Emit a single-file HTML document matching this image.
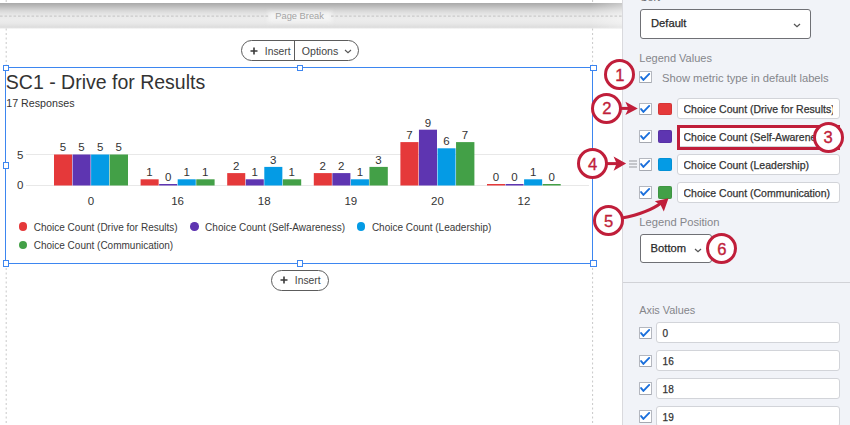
<!DOCTYPE html>
<html><head><meta charset="utf-8">
<style>
*{margin:0;padding:0;box-sizing:border-box}
html,body{width:850px;height:425px;overflow:hidden;background:#fff;font-family:"Liberation Sans",sans-serif;color:#333}
.abs{position:absolute}
.t{white-space:nowrap}
#pb{left:0;top:3px;width:622px;height:26px;background:linear-gradient(#a9a9a9 0px,#b1b1b1 1.5px,#bdbdbd 3.5px,#cacaca 5.5px,#d6d6d6 7.5px,#dfdfdf 9.5px,#e6e6e6 11.5px,#eaeaea 13.5px,#ececec 17px,#e9e9e9 20px,#e1e1e1 23px,#dcdcdc 24.3px,#eeeeee 25.3px,#ffffff 26px)}
#pbr{left:590px;top:3px;width:32px;height:25px;background:linear-gradient(to right,rgba(255,255,255,0),rgba(255,255,255,0.35))}
#panel{left:622px;top:0;width:228px;height:425px;background:#f1f3f8;border-left:1px solid #d9d9dd}
.sel{border:1px solid #3d86f0}
.h{width:6.4px;height:6.4px;border:1.4px solid #3d86f0;background:#fff}
.pill{border:1px solid #5c5c5c;border-radius:11px;background:#fff}
svg text{font-family:"Liberation Sans",sans-serif;fill:#333}
.vl text{font-size:11.5px;text-anchor:middle}
.xl{font-size:11.5px;text-anchor:middle}
.yl{font-size:11.5px;text-anchor:end}
.dot{width:8.5px;height:8.5px;border-radius:50%}
.cb{width:12.6px;height:12.6px;border:1px solid #b4b7bf;border-bottom-color:#a5a8b0;border-radius:1px;background:#fff}
.cb svg{position:absolute;left:-1px;top:-1px}
.sw{width:13.6px;height:12.8px;border-radius:2px}
.inp{height:20.5px;border:1px solid #d2d4d9;border-radius:3px;background:#fff;overflow:hidden}
.dd{border:1px solid #6f7075;border-radius:3px;background:#fff}
.circ{border:3.2px solid #c01e3a;border-radius:50%;background:#fff}
.circ span{position:absolute;left:0;right:0;top:50%;transform:translateY(-44%);line-height:1;text-align:center;color:#c01e3a;font-size:16.6px;-webkit-text-stroke:0.35px #c01e3a}
.med{-webkit-text-stroke:0.25px currentColor}
</style></head><body>
<div class="abs" id="pb"></div><div class="abs" id="pbr"></div>
<div class="abs" style="left:268px;top:12px;width:64px;height:10px;background:#f4f4f4;filter:blur(2px)"></div>

<div class="abs t" style="left:275.3px;top:10.00px;font-size:9.3px;line-height:13.02px;color:#a3a3a3;">Page Break</div>
<svg class="abs" style="left:0;top:0" width="622" height="425" viewBox="0 0 622 425">
<g stroke="#cacaca" stroke-width="1.4" stroke-dasharray="2.6 1.9"><path d="M0 16.1 H270"/><path d="M331 16.1 H622"/></g>
<g stroke="#c8c8c8" stroke-width="1" stroke-dasharray="2 2.5"><path d="M6.2 0 V3"/><path d="M6.2 28.5 V66"/><path d="M6.2 268 V425"/><path d="M592.6 0 V3"/><path d="M592.6 28.5 V66"/><path d="M592.6 268 V425"/></g>
</svg>
<div class="abs pill" style="left:241px;top:40px;width:117.5px;height:21px"></div>
<div class="abs" style="left:294px;top:41px;width:1px;height:19.5px;background:#5c5c5c"></div>
<svg class="abs" style="left:249.5px;top:46.5px" width="8" height="8" viewBox="0 0 8 8"><path d="M4 0.5V7.5M0.5 4H7.5" stroke="#3a3a3a" stroke-width="1.6"/></svg>
<div class="abs t" style="left:264.8px;top:45.00px;font-size:10.3px;line-height:14.42px;color:#444;">Insert</div>
<div class="abs t" style="left:301.8px;top:44.00px;font-size:10.6px;line-height:14.84px;color:#444;">Options</div>
<svg class="abs" style="left:343.5px;top:49px" width="8" height="6" viewBox="0 0 8 6"><path d="M1 1 L4.0 3.7 L7 1" fill="none" stroke="#555" stroke-width="1.1"/></svg>
<div class="abs sel" style="left:5px;top:67px;width:588px;height:197px"></div>
<div class="abs h" style="left:3.0px;top:64.5px"></div>
<div class="abs h" style="left:297.0px;top:64.5px"></div>
<div class="abs h" style="left:590.3px;top:64.5px"></div>
<div class="abs h" style="left:3.0px;top:162.4px"></div>
<div class="abs h" style="left:590.3px;top:162.4px"></div>
<div class="abs h" style="left:3.0px;top:260.40000000000003px"></div>
<div class="abs h" style="left:297.0px;top:260.40000000000003px"></div>
<div class="abs h" style="left:590.3px;top:260.40000000000003px"></div>
<div class="abs t" style="left:5.8px;top:69.00px;font-size:19.5px;line-height:27.3px;color:#333;">SC1 - Drive for Results</div>
<div class="abs t" style="left:6.2px;top:96.00px;font-size:10.7px;line-height:14.98px;color:#333;">17 Responses</div>
<svg class="abs" style="left:0;top:0" width="622" height="300" viewBox="0 0 622 300">
<rect x="26" y="154" width="563" height="1" fill="#e8e8e8"/>
<rect x="26" y="185" width="563" height="1" fill="#e8e8e8"/>
<rect x="54.00" y="154.50" width="18.05" height="31.00" fill="#e5393a"/>
<rect x="72.55" y="154.50" width="18.05" height="31.00" fill="#5e35b1"/>
<rect x="91.10" y="154.50" width="18.05" height="31.00" fill="#049be5"/>
<rect x="109.65" y="154.50" width="18.35" height="31.00" fill="#43a047"/>
<text class="xl" x="91.00" y="205">0</text>
<rect x="140.60" y="179.30" width="18.05" height="6.20" fill="#e5393a"/>
<rect x="159.15" y="184.00" width="18.05" height="1.5" fill="#5e35b1"/>
<rect x="177.70" y="179.30" width="18.05" height="6.20" fill="#049be5"/>
<rect x="196.25" y="179.30" width="18.35" height="6.20" fill="#43a047"/>
<text class="xl" x="177.60" y="205">16</text>
<rect x="227.20" y="173.10" width="18.05" height="12.40" fill="#e5393a"/>
<rect x="245.75" y="179.30" width="18.05" height="6.20" fill="#5e35b1"/>
<rect x="264.30" y="166.90" width="18.05" height="18.60" fill="#049be5"/>
<rect x="282.85" y="179.30" width="18.35" height="6.20" fill="#43a047"/>
<text class="xl" x="264.20" y="205">18</text>
<rect x="313.80" y="173.10" width="18.05" height="12.40" fill="#e5393a"/>
<rect x="332.35" y="173.10" width="18.05" height="12.40" fill="#5e35b1"/>
<rect x="350.90" y="179.30" width="18.05" height="6.20" fill="#049be5"/>
<rect x="369.45" y="166.90" width="18.35" height="18.60" fill="#43a047"/>
<text class="xl" x="350.80" y="205">19</text>
<rect x="400.40" y="142.10" width="18.05" height="43.40" fill="#e5393a"/>
<rect x="418.95" y="129.70" width="18.05" height="55.80" fill="#5e35b1"/>
<rect x="437.50" y="148.30" width="18.05" height="37.20" fill="#049be5"/>
<rect x="456.05" y="142.10" width="18.35" height="43.40" fill="#43a047"/>
<text class="xl" x="437.40" y="205">20</text>
<rect x="487.00" y="184.00" width="18.05" height="1.5" fill="#e5393a"/>
<rect x="505.55" y="184.00" width="18.05" height="1.5" fill="#5e35b1"/>
<rect x="524.10" y="179.30" width="18.05" height="6.20" fill="#049be5"/>
<rect x="542.65" y="184.00" width="18.05" height="1.5" fill="#43a047"/>
<text class="xl" x="524.00" y="205">12</text>
<g class="vl"><text x="62.98" y="151.30">5</text><text x="81.53" y="151.30">5</text><text x="100.08" y="151.30">5</text><text x="118.63" y="151.30">5</text><text x="149.57" y="176.10">1</text><text x="168.12" y="180.80">0</text><text x="186.67" y="176.10">1</text><text x="205.22" y="176.10">1</text><text x="236.17" y="169.90">2</text><text x="254.72" y="176.10">1</text><text x="273.27" y="163.70">3</text><text x="291.82" y="176.10">1</text><text x="322.77" y="169.90">2</text><text x="341.32" y="169.90">2</text><text x="359.87" y="176.10">1</text><text x="378.42" y="163.70">3</text><text x="409.37" y="138.90">7</text><text x="427.92" y="126.50">9</text><text x="446.47" y="145.10">6</text><text x="465.02" y="138.90">7</text><text x="495.97" y="180.80">0</text><text x="514.53" y="180.80">0</text><text x="533.08" y="176.10">1</text><text x="551.62" y="180.80">0</text></g>
<text class="yl" x="23.5" y="159">5</text><text class="yl" x="23.5" y="189.1">0</text>
</svg>
<div class="abs dot" style="left:18.75px;top:222.35px;background:#e5393a"></div>
<div class="abs t" style="left:33.7px;top:221.00px;font-size:10px;line-height:14.0px;color:#3a3a3a;">Choice Count (Drive for Results)</div>
<div class="abs dot" style="left:190.15px;top:222.35px;background:#5e35b1"></div>
<div class="abs t" style="left:205.1px;top:221.00px;font-size:10px;line-height:14.0px;color:#3a3a3a;">Choice Count (Self-Awareness)</div>
<div class="abs dot" style="left:356.95px;top:222.35px;background:#049be5"></div>
<div class="abs t" style="left:371.9px;top:221.00px;font-size:10px;line-height:14.0px;color:#3a3a3a;">Choice Count (Leadership)</div>
<div class="abs dot" style="left:18.75px;top:240.95px;background:#43a047"></div>
<div class="abs t" style="left:33.7px;top:239.00px;font-size:10px;line-height:14.0px;color:#3a3a3a;">Choice Count (Communication)</div>
<div class="abs pill" style="left:271px;top:269.6px;width:57.6px;height:21px"></div>
<svg class="abs" style="left:279.5px;top:276px" width="8" height="8" viewBox="0 0 8 8"><path d="M4 0.5V7.5M0.5 4H7.5" stroke="#3a3a3a" stroke-width="1.6"/></svg>
<div class="abs t" style="left:294.8px;top:274.00px;font-size:10.3px;line-height:14.42px;color:#444;">Insert</div>
<div class="abs" id="panel"></div>
<div class="abs t" style="left:640.3px;top:-10.00px;font-size:10.8px;line-height:15.12px;color:#6a6b70;">Sort</div>
<div class="abs dd" style="left:639.5px;top:9.3px;width:171.2px;height:29.5px"></div>
<div class="abs t med" style="left:651px;top:16.00px;font-size:11.2px;line-height:15.68px;color:#2a2a2a;">Default</div>
<svg class="abs" style="left:793px;top:22.5px" width="8" height="6" viewBox="0 0 8 6"><path d="M1 1 L4.0 3.7 L7 1" fill="none" stroke="#555" stroke-width="1.25"/></svg>
<div class="abs t" style="left:639.3px;top:51.00px;font-size:11px;line-height:15.4px;color:#85868b;">Legend Values</div>
<div class="abs cb" style="left:639.3px;top:70.6px"><svg width="13" height="13" viewBox="0 0 13 13"><path d="M2.1 6.1 L4.4 8.9 L10.2 2.9" fill="none" stroke="#1a6fdc" stroke-width="1.9" stroke-linecap="round" stroke-linejoin="round"/></svg></div>
<div class="abs t" style="left:662px;top:71.00px;font-size:11.2px;line-height:15.68px;color:#85868b;">Show metric type in default labels</div>
<div class="abs cb" style="left:639.3px;top:102.60000000000001px"><svg width="13" height="13" viewBox="0 0 13 13"><path d="M2.1 6.1 L4.4 8.9 L10.2 2.9" fill="none" stroke="#1a6fdc" stroke-width="1.9" stroke-linecap="round" stroke-linejoin="round"/></svg></div>
<div class="abs sw" style="left:658.3px;top:102.60px;background:#e5393a;box-shadow:inset 0 0 0 0.6px rgba(0,0,0,0.12)"></div>
<div class="abs inp" style="left:677px;top:98px;width:162.5px;height:20.6px"></div>
<div class="abs t med" style="left:683.5px;top:102.00px;font-size:10.5px;line-height:14.7px;color:#333;width:149.5px;overflow:hidden">Choice Count (Drive for Results)</div>
<div class="abs cb" style="left:639.3px;top:130.39999999999998px"><svg width="13" height="13" viewBox="0 0 13 13"><path d="M2.1 6.1 L4.4 8.9 L10.2 2.9" fill="none" stroke="#1a6fdc" stroke-width="1.9" stroke-linecap="round" stroke-linejoin="round"/></svg></div>
<div class="abs sw" style="left:658.3px;top:130.40px;background:#5e35b1;box-shadow:inset 0 0 0 0.6px rgba(0,0,0,0.12)"></div>
<div class="abs inp" style="left:677px;top:126px;width:162.5px;height:20.6px"></div>
<div class="abs t med" style="left:683.5px;top:130.00px;font-size:10.5px;line-height:14.7px;color:#333;width:149.5px;overflow:hidden">Choice Count (Self-Awareness)</div>
<div class="abs cb" style="left:639.3px;top:158.2px"><svg width="13" height="13" viewBox="0 0 13 13"><path d="M2.1 6.1 L4.4 8.9 L10.2 2.9" fill="none" stroke="#1a6fdc" stroke-width="1.9" stroke-linecap="round" stroke-linejoin="round"/></svg></div>
<div class="abs sw" style="left:658.3px;top:158.20px;background:#049be5;box-shadow:inset 0 0 0 0.6px rgba(0,0,0,0.12)"></div>
<div class="abs inp" style="left:677px;top:154px;width:162.5px;height:20.6px"></div>
<div class="abs t med" style="left:683.5px;top:158.00px;font-size:10.5px;line-height:14.7px;color:#333;width:149.5px;overflow:hidden">Choice Count (Leadership)</div>
<div class="abs cb" style="left:639.3px;top:186.0px"><svg width="13" height="13" viewBox="0 0 13 13"><path d="M2.1 6.1 L4.4 8.9 L10.2 2.9" fill="none" stroke="#1a6fdc" stroke-width="1.9" stroke-linecap="round" stroke-linejoin="round"/></svg></div>
<div class="abs sw" style="left:658.3px;top:186.00px;background:#43a047;box-shadow:inset 0 0 0 0.6px rgba(0,0,0,0.12)"></div>
<div class="abs inp" style="left:677px;top:182px;width:162.5px;height:20.6px"></div>
<div class="abs t med" style="left:683.5px;top:186.00px;font-size:10.5px;line-height:14.7px;color:#333;width:149.5px;overflow:hidden">Choice Count (Communication)</div>
<div class="abs" style="left:628.5px;top:160.4px;width:8px;height:1.3px;background:#c4c6cb"></div>
<div class="abs" style="left:628.5px;top:163.4px;width:8px;height:1.3px;background:#c4c6cb"></div>
<div class="abs" style="left:628.5px;top:166.4px;width:8px;height:1.3px;background:#c4c6cb"></div>
<div class="abs t" style="left:639.3px;top:215.00px;font-size:11.2px;line-height:15.68px;color:#85868b;">Legend Position</div>
<div class="abs dd" style="left:639.5px;top:234.2px;width:72.3px;height:29.2px"></div>
<div class="abs t med" style="left:650.6px;top:241.00px;font-size:11.2px;line-height:15.68px;color:#2a2a2a;">Bottom</div>
<svg class="abs" style="left:694.3px;top:247.5px" width="8" height="6" viewBox="0 0 8 6"><path d="M1 1 L4.0 3.7 L7 1" fill="none" stroke="#555" stroke-width="1.25"/></svg>
<div class="abs" style="left:623px;top:282px;width:227px;height:1.3px;background:#d1d2d7"></div>
<div class="abs t" style="left:639.2px;top:303.00px;font-size:10.9px;line-height:15.26px;color:#85868b;">Axis Values</div>
<div class="abs cb" style="left:639.3px;top:326.59999999999997px"><svg width="13" height="13" viewBox="0 0 13 13"><path d="M2.1 6.1 L4.4 8.9 L10.2 2.9" fill="none" stroke="#1a6fdc" stroke-width="1.9" stroke-linecap="round" stroke-linejoin="round"/></svg></div>
<div class="abs inp" style="left:656px;top:322px;width:183.6px;height:21px"></div>
<div class="abs t med" style="left:662.6px;top:327.00px;font-size:10px;line-height:14.0px;color:#333;">0</div>
<div class="abs cb" style="left:639.3px;top:354.49999999999994px"><svg width="13" height="13" viewBox="0 0 13 13"><path d="M2.1 6.1 L4.4 8.9 L10.2 2.9" fill="none" stroke="#1a6fdc" stroke-width="1.9" stroke-linecap="round" stroke-linejoin="round"/></svg></div>
<div class="abs inp" style="left:656px;top:350px;width:183.6px;height:21px"></div>
<div class="abs t med" style="left:662.6px;top:355.00px;font-size:10px;line-height:14.0px;color:#333;">16</div>
<div class="abs cb" style="left:639.3px;top:382.4px"><svg width="13" height="13" viewBox="0 0 13 13"><path d="M2.1 6.1 L4.4 8.9 L10.2 2.9" fill="none" stroke="#1a6fdc" stroke-width="1.9" stroke-linecap="round" stroke-linejoin="round"/></svg></div>
<div class="abs inp" style="left:656px;top:378px;width:183.6px;height:21px"></div>
<div class="abs t med" style="left:662.6px;top:383.00px;font-size:10px;line-height:14.0px;color:#333;">18</div>
<div class="abs cb" style="left:639.3px;top:410.29999999999995px"><svg width="13" height="13" viewBox="0 0 13 13"><path d="M2.1 6.1 L4.4 8.9 L10.2 2.9" fill="none" stroke="#1a6fdc" stroke-width="1.9" stroke-linecap="round" stroke-linejoin="round"/></svg></div>
<div class="abs inp" style="left:656px;top:406px;width:183.6px;height:21px"></div>
<div class="abs t med" style="left:662.6px;top:411.00px;font-size:10px;line-height:14.0px;color:#333;">19</div>
<div class="abs" style="left:676.8px;top:125px;width:163px;height:24.8px;border:3px solid #c01e3a"></div>
<svg class="abs" style="left:0;top:0" width="850" height="425" viewBox="0 0 850 425">
<g fill="none" stroke="#c01e3a" stroke-width="3">
<path d="M621 108.4 L629 108.4"/>
<path d="M607 163.6 L617 163.6"/>
<path d="M622 218 C640 214.5 652 210 661 203"/>
</g>
<g fill="#c01e3a">
<path d="M637.8 108.4 L625.4 101.7 L628.4 108.4 L625.4 115.1 Z"/>
<path d="M626.1 163.6 L613.6 156.6 L616.6 163.6 L613.6 170.8 Z"/>
<path d="M668.5 198.3 L654.8 201.2 L660.6 205 L663.8 211.4 Z"/>
</g>
</svg>
<div class="abs circ" style="left:604.40px;top:59.30px;width:31.00px;height:31.00px"><span>1</span></div>
<div class="abs circ" style="left:591.30px;top:92.90px;width:31.00px;height:31.00px"><span>2</span></div>
<div class="abs circ" style="left:812.60px;top:121.70px;width:31.00px;height:31.00px"><span>3</span></div>
<div class="abs circ" style="left:577.00px;top:148.20px;width:31.00px;height:31.00px"><span>4</span></div>
<div class="abs circ" style="left:593.00px;top:205.40px;width:31.00px;height:31.00px"><span>5</span></div>
<div class="abs circ" style="left:706.30px;top:233.40px;width:31.00px;height:31.00px"><span>6</span></div>
</body></html>
